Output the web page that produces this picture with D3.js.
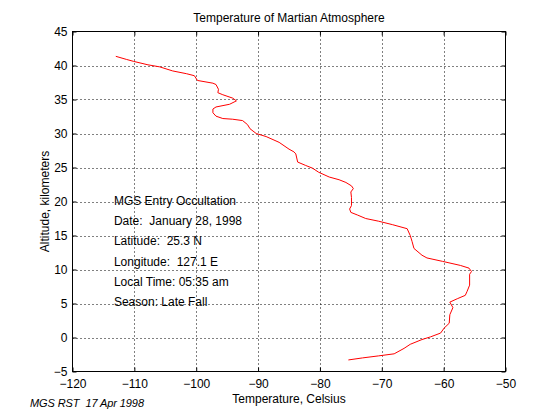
<!DOCTYPE html>
<html><head><meta charset="utf-8">
<script src="https://cdn.jsdelivr.net/npm/d3@7"></script>
<style>body{margin:0;background:#fff}svg{display:block}text{font-family:"Liberation Sans",Arial,sans-serif;white-space:pre}</style>
</head><body>
<script>
const temperature = [-113.0,-111.3,-110.1,-107.8,-105.9,-103.8,-101.6,-100.3,-99.8,-97.3,-96.8,-96.4,-96.5,-95.7,-94.1,-93.5,-94.6,-96.8,-97.3,-97.3,-96.8,-95.7,-94.1,-92.5,-91.7,-91.3,-90.3,-88.7,-86.6,-85.0,-84.2,-83.9,-83.6,-82.3,-81.2,-80.2,-78.5,-76.9,-75.8,-74.9,-74.6,-75.0,-74.9,-74.9,-75.2,-75.0,-73.9,-72.6,-70.5,-68.3,-65.9,-65.4,-65.1,-64.8,-63.5,-62.7,-60.2,-57.3,-55.9,-55.5,-55.8,-55.8,-56.2,-56.5,-57.8,-59.0,-58.5,-59.0,-59.1,-59.9,-60.5,-62.1,-63.5,-65.4,-66.4,-68.0,-70.5,-73.1,-75.4];
const altitude = [41.35,40.9,40.6,40.1,39.8,39.2,38.8,38.5,37.8,37.4,37.2,36.5,36.0,35.7,35.2,34.8,34.3,33.9,33.6,33.05,32.55,32.2,32.1,31.9,31.3,30.7,30.0,29.55,28.7,27.7,27.3,27.0,25.8,25.3,24.9,24.3,23.6,23.2,22.8,22.3,21.9,21.4,20.6,19.4,18.9,18.4,18.0,17.5,17.1,16.6,16.0,15.0,14.1,13.1,12.1,11.7,11.2,10.6,10.2,9.7,9.3,7.7,6.8,6.2,5.7,5.2,4.4,3.35,2.1,1.4,0.65,0.1,-0.3,-1.0,-1.6,-2.4,-2.7,-3.0,-3.3];
const xTicks = [-120,-110,-100,-90,-80,-70,-60,-50];
const yTicks = [-5,0,5,10,15,20,25,30,35,40,45];
const infoLines = ["MGS Entry Occultation","Date:  January 28, 1998","Latitude:  25.3 N","Longitude:  127.1 E","Local Time: 05:35 am","Season: Late Fall"];
const infoAltitudes = [20.1,17.2,14.25,11.2,8.3,5.3];

const W=560,H=420, L=72.5, T=31.5, R=505.5, B=371.5;
const svg=d3.select("body").append("svg").attr("width",W).attr("height",H);
const x=d3.scaleLinear().domain([-120,-50]).range([L,R]);
const y=d3.scaleLinear().domain([-5,45]).range([B,T]);

const g=svg.append("g");
g.selectAll(".gx").data(xTicks.slice(1,-1)).enter().append("line")
 .attr("x1",d=>Math.round(x(d))+0.5).attr("x2",d=>Math.round(x(d))+0.5).attr("y1",T).attr("y2",B)
 .attr("stroke","#000").attr("stroke-width",1).attr("stroke-dasharray","1,3");
g.selectAll(".gy").data(yTicks.slice(1,-1)).enter().append("line")
 .attr("y1",d=>Math.round(y(d))+0.5).attr("y2",d=>Math.round(y(d))+0.5).attr("x1",L).attr("x2",R)
 .attr("stroke","#000").attr("stroke-width",1).attr("stroke-dasharray","1,3");

const fmt=d=>String(d).replace("-","\u2212");
const ax=d3.axisBottom(x).tickValues(xTicks).tickSize(-4).tickPadding(8).tickFormat(fmt);
const ay=d3.axisLeft(y).tickValues(yTicks).tickSize(-4).tickPadding(5).tickFormat(fmt);
const axTop=d3.axisTop(x).tickValues(xTicks).tickSize(-4).tickFormat("");
const ayR=d3.axisRight(y).tickValues(yTicks).tickSize(-4).tickFormat("");
function style(sel){sel.select(".domain").remove();sel.selectAll("line").attr("stroke","#000");sel.selectAll("text").attr("font-size",12).attr("fill","#000").attr("font-family","Liberation Sans, Arial, sans-serif");}
svg.append("g").attr("transform",`translate(0,${B})`).call(ax).call(style);
svg.append("g").attr("transform",`translate(${L},0)`).call(ay).call(style);
svg.append("g").attr("transform",`translate(0,${T})`).call(axTop).call(style);
svg.append("g").attr("transform",`translate(${R},0)`).call(ayR).call(style);
svg.append("rect").attr("x",L).attr("y",T).attr("width",R-L).attr("height",B-T)
 .attr("fill","none").attr("stroke","#000");

const pts=temperature.map((t,i)=>[t,altitude[i]]);
svg.append("path").datum(pts).attr("d",d3.line().x(d=>x(d[0])).y(d=>y(d[1])))
 .attr("fill","none").attr("stroke","#ff0000").attr("stroke-width",1);

svg.selectAll(".info").data(infoLines).enter().append("text")
 .attr("x",x(-113.3)).attr("y",(d,i)=>y(infoAltitudes[i])+4.5).attr("font-size",12).text(d=>d);

svg.append("text").attr("x",(L+R)/2).attr("y",22).attr("text-anchor","middle").attr("font-size",12).text("Temperature of Martian Atmosphere");
svg.append("text").attr("x",(L+R)/2).attr("y",403).attr("text-anchor","middle").attr("font-size",12).text("Temperature, Celsius");
svg.append("text").attr("transform",`translate(49,${(T+B)/2}) rotate(-90)`).attr("text-anchor","middle").attr("font-size",12).text("Altitude, kilometers");
svg.append("text").attr("x",30).attr("y",406.5).attr("font-size",11).attr("font-style","italic").attr("textLength",114).attr("lengthAdjust","spacing").text("MGS RST  17 Apr 1998");
</script>
</body></html>
